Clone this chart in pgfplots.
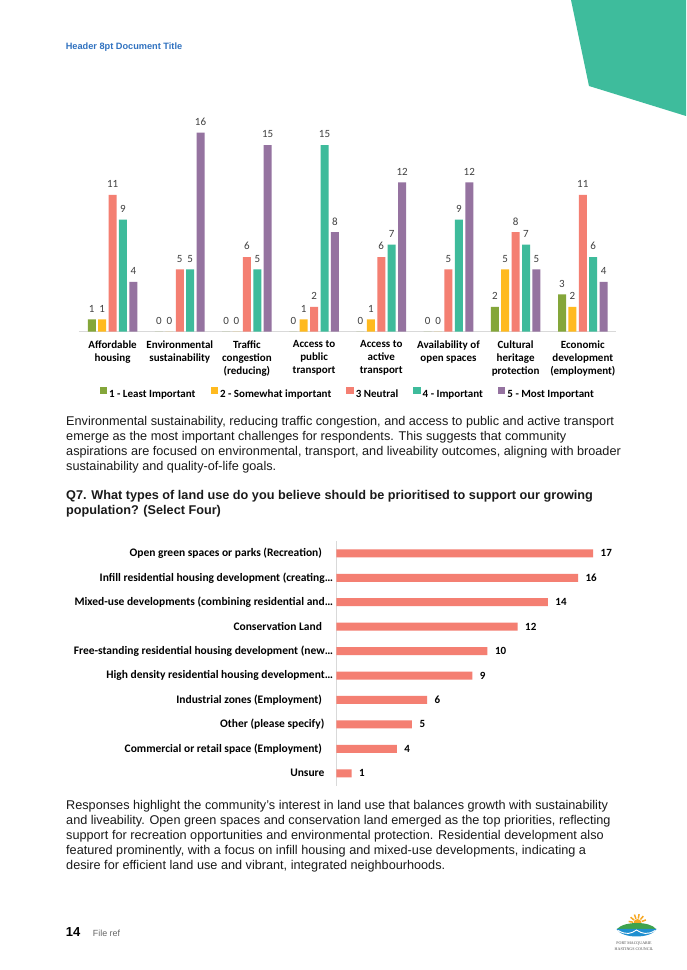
\documentclass[border=0pt]{standalone}
\usepackage{pgfplots}
\pgfplotsset{compat=1.18}
\usepackage{fontspec}
\setmainfont{Liberation Sans}
\newfontfamily\carlito{Carlito}
\newfontfamily\lserif{Liberation Serif}
\definecolor{cGreen}{HTML}{84A63A}
\definecolor{cYellow}{HTML}{FFBA1F}
\definecolor{cSalmon}{HTML}{F47F72}
\definecolor{cTeal}{HTML}{3EBB9B}
\definecolor{cPurple}{HTML}{9573A0}
\definecolor{cHead}{HTML}{3072C0}
\definecolor{cPoly}{HTML}{3EBC9C}
\definecolor{cAxis}{HTML}{D9D9D9}
\definecolor{cText}{HTML}{1A1A1A}
\definecolor{cLab}{HTML}{404040}
\definecolor{cSun}{HTML}{F7A823}
\definecolor{cHill}{HTML}{3FA34D}
\definecolor{cWave}{HTML}{1F8FD0}
\newcommand{\bodyfont}{\fontsize{12.68}{14.9}\selectfont}
\newcommand{\tl}[3]{\node[anchor=base west, inner sep=0, text=cText, font=\bodyfont] at (#1,#2) {#3};}
\newcommand{\tlb}[3]{\node[anchor=base west, inner sep=0, text=cText, font=\bodyfont\bfseries] at (#1,#2) {#3};}
\begin{document}
\begin{tikzpicture}[x=1pt,y=1pt]
\fill[white] (0,0) rectangle (686,970);
\path[use as bounding box] (0,0) rectangle (686,970);
% header
\fill[cPoly] (571,970) -- (686,970) -- (686,854) -- (589,884) -- cycle;
\node[anchor=base west, inner sep=0, text=cHead, font=\fontsize{9.2}{11}\selectfont\bfseries] at (65.6,920.7) {Header 8pt Document Title};

% chart 1
\begin{axis}[
  at={(79pt,638.3pt)}, anchor=south west,
  scale only axis, width=537.4pt, height=211.5pt,
  xmin=-0.5, xmax=7.5, ymin=0, ymax=17,
  axis x line*=bottom, axis y line=none,
  x axis line style={draw=cAxis, line width=0.8pt, -},
  major tick length=0pt,
  xtick={0,...,7},
  xticklabels={{Affordable\\housing},{Environmental\\sustainability},{Traffic\\congestion\\(reducing)},{Access to\\public\\transport},{Access to\\active\\transport},{Availability of\\open spaces},{Cultural\\heritage\\protection},{Economic\\development\\(employment)}},
  xticklabel style={align=center, font=\carlito\bfseries\fontsize{11}{12.9}\selectfont, text=black, yshift=-5.5pt},
  ybar=2.4pt, bar width=8pt,
  /pgf/number format/assume math mode=true,
  nodes near coords,
  every node near coord/.append style={font=\carlito\fontsize{11}{12}\selectfont, text=cLab, yshift=3.5pt},
  clip=false,
  legend columns=5,
  legend style={at={(0.5,-0.296)}, anchor=center, draw=none, fill=none, font=\carlito\bfseries\fontsize{11}{12}\selectfont, text=black,
    nodes={text height=0.72em, text depth=0.22em},
    /tikz/every even column/.append style={column sep=13pt}},
  legend image code/.code={\fill[#1] (0pt,0.4pt) rectangle (7.5pt,7.9pt);},
]
\addplot[fill=cGreen, draw=none] coordinates {(0,1)(1,0)(2,0)(3,0)(4,0)(5,0)(6,2)(7,3)};
\addplot[fill=cYellow, draw=none] coordinates {(0,1)(1,0)(2,0)(3,1)(4,1)(5,0)(6,5)(7,2)};
\addplot[fill=cSalmon, draw=none] coordinates {(0,11)(1,5)(2,6)(3,2)(4,6)(5,5)(6,8)(7,11)};
\addplot[fill=cTeal, draw=none] coordinates {(0,9)(1,5)(2,5)(3,15)(4,7)(5,9)(6,7)(7,6)};
\addplot[fill=cPurple, draw=none] coordinates {(0,4)(1,16)(2,15)(3,8)(4,12)(5,12)(6,5)(7,4)};
\legend{1 - Least Important, 2 - Somewhat important, 3 Neutral, 4 - Important, 5 - Most Important}
\end{axis}

% paragraph 1
\tl{66}{544.7}{Environmental sustainability, reducing traffic congestion, and access to public and active transport}
\tl{66}{529.5}{emerge as the most important challenges for respondents. This suggests that community}
\tl{66}{514.3}{aspirations are focused on environmental, transport, and liveability outcomes, aligning with broader}
\tl{66}{499.1}{sustainability and quality-of-life goals.}
% Q7
\tlb{66}{470.5}{Q7. What types of land use do you believe should be prioritised to support our growing}
\tlb{66}{455.3}{population? (Select Four)}

% chart 2
\begin{axis}[
  at={(336.5pt,184.5pt)}, anchor=south west,
  scale only axis, width=271.8pt, height=244.4pt,
  xmin=0, xmax=18, ymin=-0.5, ymax=9.5, y dir=reverse,
  axis y line*=left, axis x line=none,
  y axis line style={draw=cAxis, line width=0.8pt, -},
  major tick length=0pt,
  ytick={0,...,9},
  yticklabels={{Open green spaces or parks (Recreation)\hspace*{11pt}},{Infill residential housing development (creating…},{Mixed-use developments (combining residential and…},{Conservation Land\hspace*{11pt}},{Free-standing residential housing development (new…},{High density residential housing development…},{Industrial zones (Employment)\hspace*{11pt}},{Other (please specify)\hspace*{8.5pt}},{Commercial or retail space (Employment)\hspace*{11pt}},{Unsure\hspace*{8.5pt}}},
  yticklabel style={font=\carlito\bfseries\fontsize{11.5}{12}\selectfont, text=black},
  xbar, bar width=8pt,
  /pgf/number format/assume math mode=true,
  nodes near coords,
  every node near coord/.append style={font=\carlito\bfseries\fontsize{11}{12}\selectfont, text=black, xshift=4pt},
  clip=false,
]
\addplot[fill=cSalmon, draw=none] coordinates {(17,0)(16,1)(14,2)(12,3)(10,4)(9,5)(6,6)(5,7)(4,8)(1,9)};
\end{axis}

% paragraph 2
\tl{66}{160.0}{Responses highlight the community’s interest in land use that balances growth with sustainability}
\tl{66}{145.1}{and liveability. Open green spaces and conservation land emerged as the top priorities, reflecting}
\tl{66}{130.2}{support for recreation opportunities and environmental protection. Residential development also}
\tl{66}{115.3}{featured prominently, with a focus on infill housing and mixed-use developments, indicating a}
\tl{66}{100.4}{desire for efficient land use and vibrant, integrated neighbourhoods.}

% footer
\node[anchor=base west, inner sep=0, text=black, font=\fontsize{13}{15}\selectfont\bfseries] at (65.6,33.3) {14};
\node[anchor=base west, inner sep=0, text=black!60, font=\fontsize{8.9}{10}\selectfont] at (92.7,33.3) {File ref};
% logo
\foreach \a in {20,50,80,110,140,170} \draw[cSun, line width=1.5pt] (637.5,47)+(\a:4.5) -- +(\a:9);
\fill[cSun] (633.5,47) arc (180:0:4) -- cycle;
\fill[cHill] (617,41) .. controls (624,49) and (650,49) .. (656,41) -- cycle;
\fill[cWave] (616.5,41) .. controls (622,31) and (651,31) .. (656.5,41) -- cycle;
\draw[white, line width=0.9pt] (618,39.5) .. controls (626,35) and (631,36) .. (636.5,40) .. controls (642,36) and (648,35) .. (655,39.5);
\node[inner sep=0, text=black!70, font=\lserif\fontsize{4}{5}\selectfont] at (634,26) {PORT MACQUARIE};
\node[inner sep=0, text=black!70, font=\lserif\fontsize{4}{5}\selectfont] at (634,20.5) {HASTINGS COUNCIL};
\end{tikzpicture}
\end{document}
